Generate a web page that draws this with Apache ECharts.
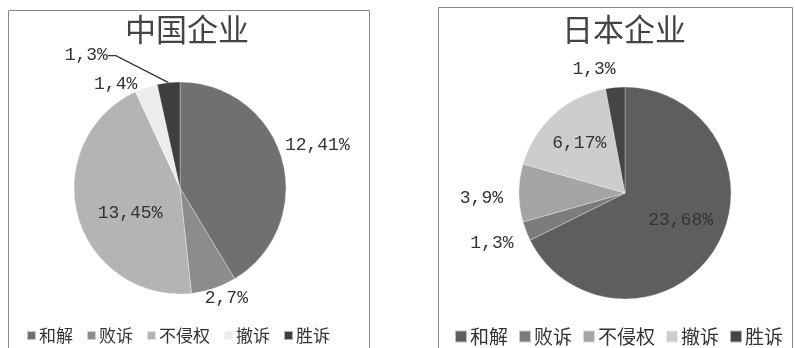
<!DOCTYPE html>
<html><head><meta charset="utf-8">
<script src="https://cdn.jsdelivr.net/npm/echarts@6/dist/echarts.min.js"></script>
<style>html,body{margin:0;padding:0;background:#fff}#c{width:795px;height:348px}</style>
</head><body><div id="c"></div>
<script>
const categories = ['和解', '败诉', '不侵权', '撤诉', '胜诉'];
const chinaValues = [12, 2, 13, 1, 1];
const japanValues = [23, 1, 3, 6, 1];
const titles = ['中国企业', '日本企业'];

const chinaColors = ['#707070', '#8c8c8c', '#b4b4b4', '#ececec', '#3e3e3e'];
const japanColors = ['#5e5e5e', '#7c7c7c', '#a4a4a4', '#cdcdcd', '#454545'];
const chinaInside = [false, false, true, false, false];
const japanInside = [true, false, false, true, false];
// small label nudges [dx, dy] relative to the library's own label placement
const chinaNudge = [[-10, -13], [-18, 4], [4, 10], [0, 2], null];
const japanNudge = [[8, -2], [0, 10], [-3, 5], [-8, -8], [8, -12]];

const chart = echarts.init(document.getElementById('c'), null, {renderer: 'canvas'});
const monoFont = '"Liberation Mono", "DejaVu Sans Mono", monospace';
const cjkFont = '"Noto Sans CJK SC", sans-serif';

function buildData(values, colors, inside, leaderIndex) {
  return categories.map((name, i) => {
    const d = {
      name: name,
      value: values[i],
      itemStyle: {color: colors[i]},
      label: inside[i] ? {position: 'inside'} : {position: 'outside'}
    };
    if (i === leaderIndex) {
      d.labelLine = {show: true, length: 6, length2: 8, lineStyle: {color: '#333', width: 1.2}};
    }
    return d;
  });
}

function makeLayout(nudge, leaderIndex) {
  return function (p) {
    if (p.dataIndex === leaderIndex) {
      return {
        x: p.labelRect.x - 47, y: p.labelRect.y - 21,
        align: 'left', verticalAlign: 'top'
      };
    }
    const n = nudge[p.dataIndex];
    return n ? {dx: n[0], dy: n[1]} : {};
  };
}

function pieSeries(values, colors, inside, center, radius, nudge, leaderIndex) {
  return {
    type: 'pie',
    center: center,
    radius: radius,
    startAngle: 90,
    clockwise: true,
    percentPrecision: 0,
    avoidLabelOverlap: false,
    itemStyle: {borderColor: 'rgba(255,255,255,0.6)', borderWidth: 0.5},
    label: {
      formatter: p => p.value + ',' + p.percent + '%',
      fontFamily: monoFont,
      fontSize: 18,
      color: '#333'
    },
    labelLine: {show: false, length: 6, length2: 2},
    emphasis: {disabled: true},
    labelLayout: makeLayout(nudge, leaderIndex),
    data: buildData(values, colors, inside, leaderIndex)
  };
}

function legendFor(colors, left, fontSize, iconSize, gap) {
  return {
    left: left, top: 322,
    itemWidth: iconSize, itemHeight: iconSize, itemGap: gap,
    icon: 'rect',
    selectedMode: false,
    textStyle: {fontFamily: cjkFont, fontSize: fontSize, color: '#333', padding: [0, 0, 0, -2]},
    data: categories.map((n, i) => ({name: n, itemStyle: {color: colors[i]}}))
  };
}

chart.setOption({
  animation: false,
  title: [
    {text: titles[0], left: 182, top: 9, textAlign: 'center',
     textStyle: {fontFamily: cjkFont, fontSize: 31, fontWeight: 'normal', color: '#444'}},
    {text: titles[1], left: 619, top: 9, textAlign: 'center',
     textStyle: {fontFamily: cjkFont, fontSize: 31, fontWeight: 'normal', color: '#444'}}
  ],
  graphic: [
    {type: 'rect', shape: {x: 8.5, y: 10.5, width: 361, height: 360}, style: {fill: 'none', stroke: '#888', lineWidth: 1}},
    {type: 'rect', shape: {x: 438.5, y: 7.5, width: 354, height: 360}, style: {fill: 'none', stroke: '#888', lineWidth: 1}}
  ],
  legend: [
    legendFor(chinaColors, 21, 17, 9, 13),
    legendFor(japanColors, 449, 19, 12, 10)
  ],
  series: [
    pieSeries(chinaValues, chinaColors, chinaInside, [180, 188], 106, chinaNudge, 4),
    pieSeries(japanValues, japanColors, japanInside, [625, 193], 106, japanNudge, -1)
  ]
});
</script>
</body></html>
